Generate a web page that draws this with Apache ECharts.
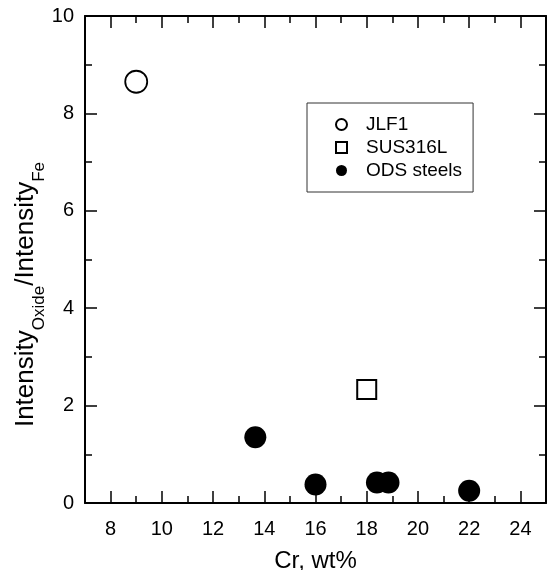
<!DOCTYPE html>
<html>
<head>
<meta charset="utf-8">
<script src="https://cdn.jsdelivr.net/npm/echarts@6/dist/echarts.min.js"></script>
<style>html,body{margin:0;padding:0;background:#fff}#c{width:552px;height:570px}</style>
</head>
<body>
<div id="c"></div>
<script>
const seriesNames = ['JLF1', 'SUS316L', 'ODS steels'];
const jlf1Points = [[9.0, 8.65]];
const sus316lPoints = [[18.0, 2.33]];
const odsPoints = [[13.65, 1.35], [16.0, 0.38], [18.4, 0.42], [18.85, 0.42], [22.0, 0.25]];
const xTickLabels = [8, 10, 12, 14, 16, 18, 20, 22, 24];
const yTickLabels = [0, 2, 4, 6, 8, 10];

const FONT = 'Liberation Sans, Arial, Helvetica, sans-serif';
const chart = echarts.init(document.getElementById('c'), null, {renderer: 'canvas'});

function xAx(pos, withLabels) {
  return {
    type: 'value', position: pos, min: 7, max: 25, interval: 2,
    axisLine: {show: true, onZero: false, lineStyle: {color: '#000', width: 2}},
    axisTick: {show: true, inside: true, length: 7, lineStyle: {color: '#000', width: 1.5}},
    minorTick: {show: true, splitNumber: 2, length: 12, lineStyle: {color: '#000', width: 1.5}},
    splitLine: {show: false}, minorSplitLine: {show: false},
    axisLabel: withLabels ? {show: true, customValues: xTickLabels, margin: 16, color: '#000', fontSize: 20, fontFamily: FONT} : {show: false},
    name: withLabels ? 'Cr, wt%' : '',
    nameLocation: 'middle', nameGap: 46,
    nameTextStyle: {color: '#000', fontSize: 24, fontFamily: FONT}
  };
}
function yAx(pos, withLabels) {
  return {
    type: 'value', position: pos, min: 0, max: 10, interval: 2,
    axisLine: {show: true, onZero: false, lineStyle: {color: '#000', width: 2}},
    axisTick: {show: true, inside: true, length: 12, lineStyle: {color: '#000', width: 1.5}},
    minorTick: {show: true, splitNumber: 2, length: 7, lineStyle: {color: '#000', width: 1.5}},
    splitLine: {show: false}, minorSplitLine: {show: false},
    axisLabel: withLabels ? {show: true, margin: 11, color: '#000', fontSize: 20, fontFamily: FONT,
      customValues: yTickLabels} : {show: false},
    name: withLabels ? '{m|Intensity}{s|Oxide}{m|/Intensity}{s|Fe}' : '',
    nameLocation: 'middle', nameGap: 37, nameMoveOverlap: false,
    nameTextStyle: {
      color: '#000', fontFamily: FONT, padding: [0, 70, 0, 0],
      rich: {
        m: {fontSize: 26, lineHeight: 26, verticalAlign: 'top', color: '#000', fontFamily: FONT},
        s: {fontSize: 17, lineHeight: 35, verticalAlign: 'bottom', color: '#000', fontFamily: FONT}
      }
    }
  };
}

chart.setOption({
  backgroundColor: '#fff',
  animation: false,
  grid: {left: 85, right: 6, top: 16, bottom: 67, containLabel: false, outerBoundsMode: 'none'},
  xAxis: [xAx('bottom', true), xAx('top', false)],
  yAxis: [yAx('left', true), yAx('right', false)],
  legend: {
    orient: 'vertical', left: 307, top: 103,
    padding: [12, 11, 12, 28],
    itemGap: 4, itemWidth: 11, itemHeight: 11,
    backgroundColor: '#fff', borderColor: '#333', borderWidth: 1,
    textStyle: {color: '#000', fontSize: 19, fontFamily: FONT, padding: [0, 0, 0, 14]},
    data: seriesNames,
    selectedMode: false
  },
  series: [
    {name: seriesNames[0], type: 'scatter', data: jlf1Points, symbol: 'circle', symbolSize: 22,
      itemStyle: {color: '#fff', borderColor: '#000', borderWidth: 1.8, opacity: 1}},
    {name: seriesNames[1], type: 'scatter', data: sus316lPoints, symbol: 'rect', symbolSize: 19,
      itemStyle: {color: '#fff', borderColor: '#000', borderWidth: 2, opacity: 1}},
    {name: seriesNames[2], type: 'scatter', data: odsPoints, symbol: 'circle', symbolSize: 22,
      itemStyle: {color: '#000', opacity: 1}}
  ]
});
</script>
</body>
</html>
